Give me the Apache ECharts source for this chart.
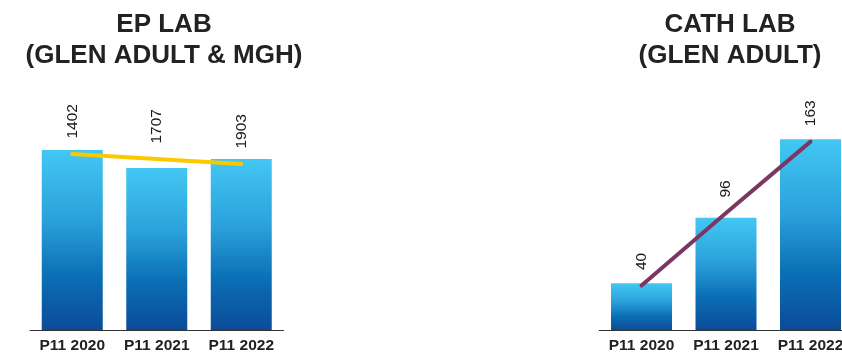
<!DOCTYPE html>
<html>
<head>
<meta charset="utf-8">
<script src="https://cdn.jsdelivr.net/npm/echarts@6/dist/echarts.min.js"></script>
<style>
html,body{margin:0;padding:0;background:#fff;overflow:hidden;width:842px;height:357px;}
#chart{width:853px;height:357px;}
</style>
</head>
<body>
<div id="chart"></div>
<script>
// ---- data ----
var categories = ['P11 2020', 'P11 2021', 'P11 2022'];
var epTitle = 'EP LAB\n(GLEN ADULT & MGH)';
var cathTitle = 'CATH LAB\n(GLEN ADULT)';
// EP LAB: bar heights as drawn (arbitrary scale), printed labels, trend line
var epBars = [180, 162, 171];
var epLabels = ['1402', '1707', '1903'];
var epTrend = [176, 171, 166];
// CATH LAB: values, labels, linear trend line
var cathBars = [40, 96, 163];
var cathLabels = ['40', '96', '163'];
var cathTrend = [38, 100, 161];

var FONT = '"Liberation Sans", Arial, Helvetica, sans-serif';

function barGradient() {
  return new echarts.graphic.LinearGradient(0, 0, 0, 1, [
    {offset: 0, color: '#43c7f3'},
    {offset: 0.4, color: '#2aa0da'},
    {offset: 0.7, color: '#0b6fb5'},
    {offset: 1, color: '#0c4b98'}
  ]);
}

function xAxisCfg(gridIndex) {
  return {
    type: 'category', gridIndex: gridIndex, data: categories,
    axisLine: {lineStyle: {color: '#333', width: 1}},
    axisTick: {show: false},
    axisLabel: {interval: 0, color: '#222', fontFamily: FONT, fontSize: 15.5, fontWeight: 'bold', margin: 8}
  };
}
function yAxisCfg(gridIndex, max) {
  return {
    type: 'value', gridIndex: gridIndex, min: 0, max: max,
    show: false, splitLine: {show: false}
  };
}
function lineLabel(texts) {
  return {
    show: true, position: 'top', distance: 15, rotate: 90,
    align: 'left', verticalAlign: 'middle',
    color: '#1a1a1a', fontFamily: FONT, fontSize: 15.5,
    formatter: function (p) { return texts[p.dataIndex]; }
  };
}

var chart = echarts.init(document.getElementById('chart'), null, {renderer: 'canvas'});
chart.setOption({
  animation: false,
  backgroundColor: '#fff',
  title: [
    {text: epTitle, left: 159, top: 4, textAlign: 'center',
     textStyle: {fontFamily: FONT, fontSize: 26, fontWeight: 'bold', color: '#222', lineHeight: 31}},
    {text: cathTitle, left: 725, top: 4, textAlign: 'center',
     textStyle: {fontFamily: FONT, fontSize: 26, fontWeight: 'bold', color: '#222', lineHeight: 31}}
  ],
  grid: [
    {left: 30, width: 253.5, top: 130, bottom: 27, containLabel: false},
    {left: 599.25, width: 253.5, top: 96, bottom: 27, containLabel: false}
  ],
  xAxis: [xAxisCfg(0), xAxisCfg(1)],
  yAxis: [yAxisCfg(0, 200), yAxisCfg(1, 200)],
  series: [
    {type: 'bar', xAxisIndex: 0, yAxisIndex: 0, data: epBars, barWidth: 61,
     itemStyle: {color: barGradient()}},
    {type: 'line', xAxisIndex: 0, yAxisIndex: 0, data: epTrend,
     symbol: 'circle', symbolSize: 1, showSymbol: true,
     itemStyle: {color: '#fdc800'},
     lineStyle: {color: '#fdc800', width: 4, cap: 'round'},
     label: lineLabel(epLabels), z: 5},
    {type: 'bar', xAxisIndex: 1, yAxisIndex: 1, data: cathBars, barWidth: 61,
     itemStyle: {color: barGradient()}},
    {type: 'line', xAxisIndex: 1, yAxisIndex: 1, data: cathTrend,
     symbol: 'circle', symbolSize: 1, showSymbol: true,
     itemStyle: {color: '#7b3763'},
     lineStyle: {color: '#7b3763', width: 4, cap: 'round'},
     label: lineLabel(cathLabels), z: 5}
  ]
});
</script>
</body>
</html>
